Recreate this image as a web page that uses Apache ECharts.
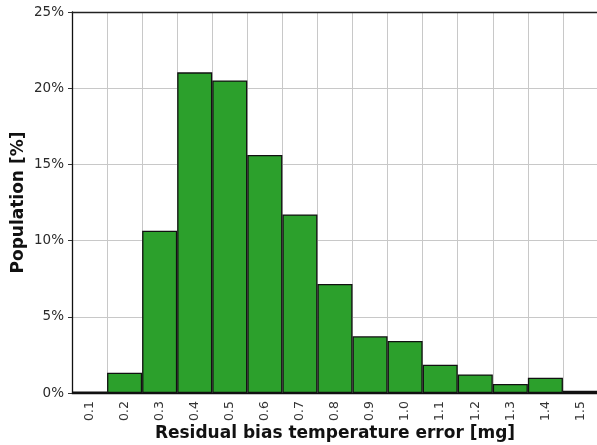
<!DOCTYPE html>
<html>
<head>
<meta charset="utf-8">
<script src="https://cdn.jsdelivr.net/npm/echarts@6/dist/echarts.min.js"></script>
<style>
html,body{margin:0;padding:0;background:#fff;}
#chart{width:597px;height:445px;}
</style>
</head>
<body>
<div id="chart"></div>
<script>
const categories = ['0.1','0.2','0.3','0.4','0.5','0.6','0.7','0.8','0.9','1.0','1.1','1.2','1.3','1.4','1.5'];
const population = [0.1, 1.33, 10.65, 21.04, 20.51, 15.62, 11.72, 7.15, 3.72, 3.41, 1.86, 1.22, 0.59, 1.0, 0.15];
const yTicks = [0, 5, 10, 15, 20, 25];

const chart = echarts.init(document.getElementById('chart'));
const font = 'DejaVu Sans';
chart.setOption({
  animation: false,
  grid: {left: 72, right: -1, top: 12, bottom: 52, containLabel: false, outerBoundsMode: 'none'},
  xAxis: [{
    type: 'category',
    data: categories,
    boundaryGap: true,
    name: 'Residual bias temperature error [mg]',
    nameLocation: 'middle',
    nameGap: 32,
    nameMoveOverlap: false,
    nameTextStyle: {fontFamily: font, fontWeight: 'bold', fontSize: 17, color: '#111'},
    axisLine: {lineStyle: {color: '#111', width: 1.3}},
    axisTick: {show: false},
    axisLabel: {rotate: 90, fontFamily: font, fontSize: 12.5, color: '#333', margin: 8, interval: 0},
    splitLine: {show: true, interval: 0, lineStyle: {color: '#c8c8c8', width: 1}}
  }, {
    type: 'category',
    position: 'top',
    data: categories,
    axisLine: {show: true, lineStyle: {color: '#222', width: 1.3}},
    axisTick: {show: false},
    axisLabel: {show: false},
    splitLine: {show: false}
  }],
  yAxis: {
    type: 'value',
    min: yTicks[0],
    max: yTicks[yTicks.length - 1],
    interval: 5,
    name: 'Population [%]',
    nameLocation: 'middle',
    nameGap: 45,
    nameMoveOverlap: false,
    nameTextStyle: {fontFamily: font, fontWeight: 'bold', fontSize: 17, color: '#111'},
    axisLine: {show: true, lineStyle: {color: '#111', width: 1.3}},
    axisTick: {show: true, length: 4, lineStyle: {color: '#333'}},
    axisLabel: {fontFamily: font, fontSize: 13.5, color: '#2a2a2a', margin: 8, formatter: v => v + '%'},
    splitLine: {show: true, lineStyle: {color: '#c8c8c8', width: 1}}
  },
  series: [{
    type: 'bar',
    data: population,
    barCategoryGap: '0%',
    itemStyle: {color: '#2ca02c', borderColor: '#111', borderWidth: 1.3}
  }]
});
</script>
</body>
</html>
